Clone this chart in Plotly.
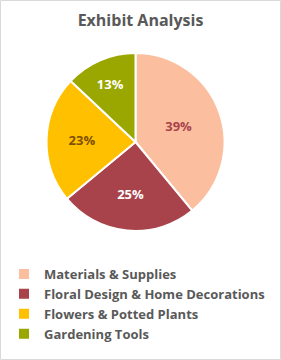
import plotly.graph_objects as go

labels = ["Materials & Supplies", "Floral Design & Home Decorations", "Flowers & Potted Plants", "Gardening Tools"]
values = [39, 25, 23, 13]
colors = ["#FBBFA0", "#A9434B", "#FFC000", "#9AA700"]
text_colors = ["#A9434B", "#FFFFFF", "#7F4F00", "#FFFFFF"]

W, H = 281, 360
fig = go.Figure(go.Pie(
    labels=labels, values=values, sort=False, direction="clockwise", rotation=0,
    marker=dict(colors=colors, line=dict(color="white", width=2)),
    texttemplate="%{percent:.0%}", textposition="inside",
    insidetextfont=dict(color=text_colors, size=13, family="Open Sans", weight="bold"),
    insidetextorientation="horizontal",
    domain=dict(x=[0, 271 / W], y=[1 - 231 / H, 1 - 53 / H]),
    hoverinfo="label+percent",
))
fig.update_layout(
    width=W, height=H, margin=dict(l=0, r=0, t=0, b=0),
    paper_bgcolor="white",
    title=dict(text="<b>Exhibit Analysis</b>", x=0.5, xanchor="center", y=1 - 20 / H, yanchor="middle",
               font=dict(family="Open Sans", size=16, color="#595959")),
    legend=dict(x=4 / W, y=1 - 259 / H, xanchor="left", yanchor="top",
                font=dict(family="Open Sans", size=13, color="#595959", weight="bold"),
                traceorder="normal", itemwidth=30),
    font=dict(family="Open Sans"),
    shapes=[dict(type="rect", xref="paper", yref="paper", x0=0.5 / W, x1=1 - 0.5 / W, y0=0.5 / H, y1=1 - 0.5 / H,
                 line=dict(color="#D9D9D9", width=1))],
)
fig.write_html("out.html")
